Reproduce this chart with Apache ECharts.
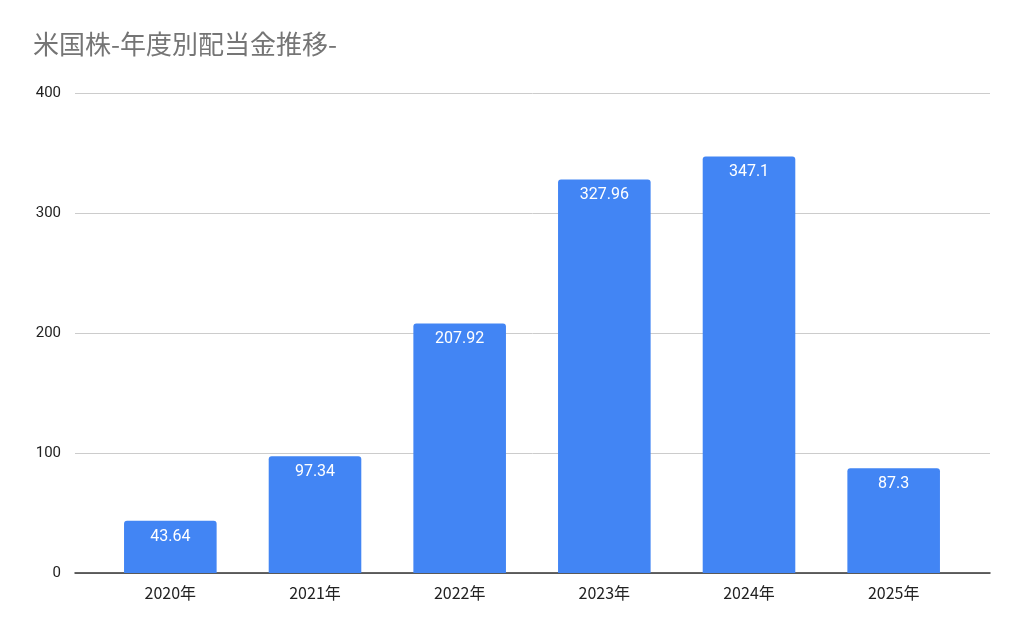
<!DOCTYPE html>
<html><head><meta charset="utf-8">
<script src="https://cdn.jsdelivr.net/npm/echarts@6/dist/echarts.min.js"></script>
<style>html,body{margin:0;padding:0;background:#fff}#c{width:1024px;height:633px}</style>
</head><body><div id="c"></div>
<script>
const categories = ['2020年','2021年','2022年','2023年','2024年','2025年'];
const values = [43.64, 97.34, 207.92, 327.96, 347.1, 87.3];
const titleText = '米国株-年度別配当金推移-';
const chart = echarts.init(document.getElementById('c'));
chart.setOption({
  animation:false,
  title:{text:titleText,left:28,top:26,textStyle:{fontFamily:'Noto Sans CJK JP',fontSize:26,fontWeight:'normal',color:'#757575'}},
  grid:[
    {left:75,right:34,top:93,bottom:60},
    {left:98,right:58,top:93,bottom:60}
  ],
  xAxis:[
    {type:'value',gridIndex:0,min:0,max:1,show:true,axisLabel:{show:false},axisTick:{show:false},splitLine:{show:false},
      axisLine:{show:true,onZero:false,lineStyle:{color:'#333',width:1.5}}},
    {type:'category',gridIndex:1,data:categories,
      axisLine:{show:false},axisTick:{show:false},
      axisLabel:{fontFamily:'Noto Sans CJK JP',fontSize:16,color:'#222',margin:12}}
  ],
  yAxis:[
    {type:'value',gridIndex:0,min:0,max:400,interval:100,
      axisLine:{show:false},axisTick:{show:false},
      splitLine:{lineStyle:{color:'#ccc'}},
      axisLabel:{fontFamily:'Roboto',fontSize:15,color:'#222',margin:14}},
    {type:'value',gridIndex:1,min:0,max:400,interval:100,show:false,splitLine:{show:false}}
  ],
  series:[{type:'bar',xAxisIndex:1,yAxisIndex:1,data:values,barWidth:'64%',z:1,
    itemStyle:{color:'#4285f4',borderRadius:[3,3,0,0]},
    label:{show:true,position:'insideTop',distance:8,color:'#fff',fontFamily:'Roboto',fontSize:16}}]
});
</script></body></html>
